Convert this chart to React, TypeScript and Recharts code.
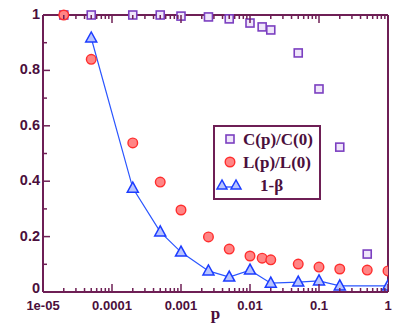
import React from 'react';
import { ComposedChart, XAxis, YAxis, Scatter, Line, Legend } from 'recharts';

// ---- data ----
const pC = [2e-5, 5e-5, 2e-4, 5e-4, 1e-3, 2.5e-3, 5e-3, 0.01, 0.015, 0.02, 0.05, 0.1, 0.2, 0.5];
const cRatio = [1, 1, 1, 1, 0.996, 0.993, 0.986, 0.971, 0.957, 0.946, 0.863, 0.733, 0.523, 0.137];

const pL = [2e-5, 5e-5, 2e-4, 5e-4, 1e-3, 2.5e-3, 5e-3, 0.01, 0.015, 0.02, 0.05, 0.1, 0.2, 0.5, 1];
const lRatio = [1, 0.84, 0.538, 0.397, 0.296, 0.199, 0.155, 0.13, 0.122, 0.116, 0.101, 0.09, 0.083, 0.079, 0.076];

const pB = [5e-5, 2e-4, 5e-4, 1e-3, 2.5e-3, 5e-3, 0.01, 0.02, 0.05, 0.1, 0.2, 1];
const oneMinusBeta = [0.917, 0.375, 0.217, 0.144, 0.076, 0.054, 0.079, 0.032, 0.036, 0.04, 0.022, 0.022];

const xMajorTicks = [1e-5, 1e-4, 1e-3, 1e-2, 1e-1, 1];
const xMajorLabels = ['1e-05', '0.0001', '0.001', '0.01', '0.1', '1'];
const yTicks = [0, 0.1, 0.2, 0.3, 0.4, 0.5, 0.6, 0.7, 0.8, 0.9, 1];
const yMajorTicks = [0, 0.2, 0.4, 0.6, 0.8, 1];
const yMajorLabels = ['0', '0.2', '0.4', '0.6', '0.8', '1'];

const seriesNames = ['C(p)/C(0)', 'L(p)/L(0)', '1-β'];
const xLabel = 'p';

// ---- derived tables ----
const cData = pC.map((p, i) => ({ p, v: cRatio[i] }));
const lData = pL.map((p, i) => ({ p, v: lRatio[i] }));
const bData = pB.map((p, i) => ({ p, v: oneMinusBeta[i] }));

const xTicks: number[] = [];
xMajorTicks.forEach((d, i) => {
  xTicks.push(d);
  if (i < xMajorTicks.length - 1) for (let k = 2; k <= 9; k++) xTicks.push(d * k);
});

// ---- styles ----
const AX = '#6e1f55';
const TXT = '#4b0f3c';
const SQ = '#7b3fc0';
const RED = '#ff2e2e';
const BLUE = '#1c3cff';
const SANS = '"Liberation Sans", Arial, sans-serif';
const SERIF = '"Liberation Serif", "Times New Roman", serif';

const near = (a: number, b: number) => Math.abs(a - b) <= Math.abs(b) * 1e-6 + 1e-12;
const xMajorIdx = (v: number) => xMajorTicks.findIndex((t) => near(v, t));
const yMajorIdx = (v: number) => yMajorTicks.findIndex((t) => near(v, t));

const BottomTick = (props: any) => {
  const { x, y, payload } = props;
  const i = xMajorIdx(payload.value);
  const major = i >= 0;
  return (
    <g>
      <line x1={x} x2={x} y1={y} y2={y - (major ? 8 : 4)} stroke={AX} strokeWidth={1.5} />
      {major && (
        <text x={x} y={y + 18} textAnchor="middle" fill={TXT} fontFamily={SANS} fontWeight="bold" fontSize={13}>
          {xMajorLabels[i]}
        </text>
      )}
    </g>
  );
};

const TopTick = (props: any) => {
  const { x, y, payload } = props;
  const major = xMajorIdx(payload.value) >= 0;
  return <line x1={x} x2={x} y1={y} y2={y + (major ? 8 : 4)} stroke={AX} strokeWidth={1.5} />;
};

const LeftTick = (props: any) => {
  const { x, y, payload } = props;
  const i = yMajorIdx(payload.value);
  const major = i >= 0;
  return (
    <g>
      <line x1={x} x2={x + (major ? 7 : 4)} y1={y} y2={y} stroke={AX} strokeWidth={1.5} />
      {major && (
        <text x={x - 3} y={y + (i === 0 ? 1 : 4)} textAnchor="end" fill={TXT} fontFamily={SANS} fontWeight="bold" fontSize={14.5}>
          {yMajorLabels[i]}
        </text>
      )}
    </g>
  );
};

const RightTick = (props: any) => {
  const { x, y, payload } = props;
  const major = yMajorIdx(payload.value) >= 0;
  return <line x1={x} x2={x - (major ? 7 : 4)} y1={y} y2={y} stroke={AX} strokeWidth={1.5} />;
};

const Square = (props: any) => {
  const { cx, cy } = props;
  if (cx == null || cy == null) return null;
  return <rect x={cx - 4} y={cy - 4} width={8} height={8} fill="#efe6fa" stroke={SQ} strokeWidth={1.6} />;
};

const Circle = (props: any) => {
  const { cx, cy } = props;
  if (cx == null || cy == null) return null;
  return <circle cx={cx} cy={cy} r={4.8} fill="#ff8585" stroke={RED} strokeWidth={1.4} />;
};

const Tri = (props: any) => {
  const { cx, cy, index } = props;
  if (cx == null || cy == null) return null;
  return (
    <polygon
      key={`t${index}`}
      points={`${cx},${cy - 6} ${cx - 5.5},${cy + 4} ${cx + 5.5},${cy + 4}`}
      fill="#b8c4ff"
      stroke={BLUE}
      strokeWidth={1.5}
    />
  );
};

const LegendBox = () => (
  <div style={{ width: 104, height: 71, border: `2px solid ${AX}`, background: '#fff' }}>
    <svg width={104} height={71} style={{ display: 'block' }}>
      <rect x={11} y={8} width={8} height={8} fill="#efe6fa" stroke={SQ} strokeWidth={1.6} />
      <text x={28} y={18} fill={TXT} fontFamily={SERIF} fontWeight="bold" fontSize={17}>{seriesNames[0]}</text>
      <circle cx={15} cy={35} r={4.8} fill="#ff8585" stroke={RED} strokeWidth={1.4} />
      <text x={28} y={41} fill={TXT} fontFamily={SERIF} fontWeight="bold" fontSize={17}>{seriesNames[1]}</text>
      <line x1={7} x2={21} y1={60} y2={60} stroke={BLUE} strokeWidth={1.2} />
      <polygon points="7,53 2,62 12,62" fill="#b8c4ff" stroke={BLUE} strokeWidth={1.5} />
      <polygon points="21,53 16,62 26,62" fill="#b8c4ff" stroke={BLUE} strokeWidth={1.5} />
      <text x={45} y={64} fill={TXT} fontFamily={SERIF} fontWeight="bold" fontSize={17}>{seriesNames[2]}</text>
    </svg>
  </div>
);

export default function App() {
  return (
    <div style={{ position: 'absolute', left: 0, top: 0, width: 407, height: 331, background: '#fff' }}>
      <ComposedChart width={407} height={331} margin={{ top: 0, right: 0, bottom: 0, left: 0 }}>
        <XAxis
          xAxisId="b"
          dataKey="p"
          type="number"
          scale="log"
          domain={[1e-5, 1]}
          allowDataOverflow
          ticks={xTicks}
          interval={0}
          height={39}
          tickSize={0}
          tickMargin={0}
          tick={<BottomTick />}
          axisLine={{ stroke: AX, strokeWidth: 2 }}
          label={{
            content: (p: any) => (
              <text
                x={p.viewBox.x + p.viewBox.width / 2}
                y={319}
                textAnchor="middle"
                fill={TXT}
                fontFamily={SERIF}
                fontWeight="bold"
                fontSize={17}
              >
                {xLabel}
              </text>
            ),
          }}
        />
        <XAxis
          xAxisId="t"
          orientation="top"
          dataKey="p"
          type="number"
          scale="log"
          domain={[1e-5, 1]}
          allowDataOverflow
          ticks={xTicks}
          interval={0}
          height={15}
          tickSize={0}
          tickMargin={0}
          tick={<TopTick />}
          axisLine={{ stroke: AX, strokeWidth: 2 }}
        />
        <YAxis
          yAxisId="l"
          type="number"
          domain={[0, 1]}
          ticks={yTicks}
          interval={0}
          width={43}
          tickSize={0}
          tickMargin={0}
          tick={<LeftTick />}
          axisLine={{ stroke: AX, strokeWidth: 2 }}
        />
        <YAxis
          yAxisId="r"
          orientation="right"
          type="number"
          domain={[0, 1]}
          ticks={yTicks}
          interval={0}
          width={19}
          tickSize={0}
          tickMargin={0}
          tick={<RightTick />}
          axisLine={{ stroke: AX, strokeWidth: 2 }}
        />
        <Scatter
          name={seriesNames[0]}
          data={cData}
          dataKey="v"
          xAxisId="b"
          yAxisId="l"
          shape={<Square />}
          isAnimationActive={false}
        />
        <Scatter
          name={seriesNames[1]}
          data={lData}
          dataKey="v"
          xAxisId="b"
          yAxisId="l"
          shape={<Circle />}
          isAnimationActive={false}
        />
        <Line
          name={seriesNames[2]}
          data={bData}
          dataKey="v"
          xAxisId="b"
          yAxisId="l"
          type="linear"
          stroke="#2a55ff"
          strokeWidth={1.2}
          dot={<Tri />}
          activeDot={false}
          isAnimationActive={false}
        />
        <Legend
          layout="vertical"
          align="center"
          verticalAlign="middle"
          content={() => <LegendBox />}
          wrapperStyle={{ left: 213, top: 125, width: 108, height: 75 }}
        />
      </ComposedChart>
    </div>
  );
}
